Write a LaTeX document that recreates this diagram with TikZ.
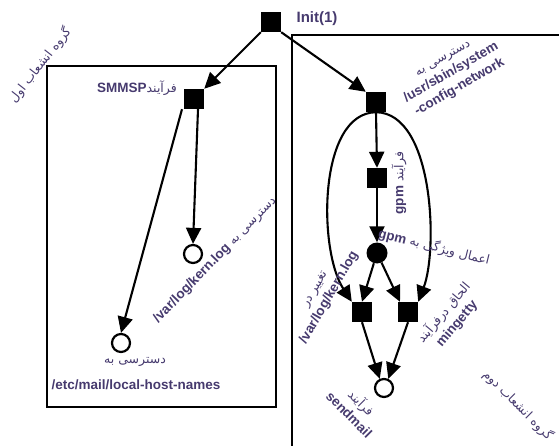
\documentclass[tikz,border=0pt]{standalone}
\usepackage{fontspec}
\setmainfont{Liberation Sans}
\newfontfamily\fa[Script=Arabic]{DejaVu Sans}
\TeXXeTstate=1
\usetikzlibrary{arrows.meta}
\definecolor{lab}{HTML}{463A6E}
\newcommand{\latn}[1]{\beginL{\rmfamily\bfseries\fontsize{13.5}{17}\selectfont #1}\endL}
\newcommand{\rtl}[1]{{\fa\fontsize{12.5}{17}\selectfont\beginR #1\endR}}
\tikzset{
  sq/.style={fill=black, minimum size=20pt, inner sep=0pt},
  wc/.style={circle, draw, line width=2.2pt, minimum size=18pt, inner sep=0pt, fill=white},
  bc/.style={circle, fill=black, minimum size=21pt, inner sep=0pt},
  arr/.style={line width=2.1pt, -{Triangle[length=16pt,width=15pt]}},
  lbl/.style={text=lab, inner sep=0pt, align=center, font=\fontsize{13}{17}\selectfont},
  frame/.style={line width=1.8pt},
}
\begin{document}
\begin{tikzpicture}[x=1pt,y=-1pt]
\useasboundingbox (0,0) rectangle (559,446);
% frames
\draw[frame] (47,66) rectangle (276,407);
\draw[frame] (292,447) -- (292,35) -- (560,35);
% nodes
\node[sq] (init) at (271,22) {};
\node[sq] (smmsp) at (194,99) {};
\node[wc] (kern) at (193,254) {};
\node[wc] (local) at (121,343) {};
\node[sq] (cfg) at (376,102) {};
\node[sq] (gpm) at (377,178) {};
\node[bc] (attr) at (377,253) {};
\node[sq] (sqL) at (362,312) {};
\node[sq] (sqR) at (408,312) {};
\node[wc] (send) at (384,388) {};
% connectors
\draw[arr] (init.south west) -- (smmsp.north east);
\draw[arr] (init.south east) -- (cfg.north west);
\draw[arr] ([xshift=-12pt]smmsp.south) -- (local.north);
\draw[arr] ([xshift=4pt]smmsp.south) -- (kern.north);
\draw[arr] (cfg.south) -- (gpm.north);
\draw[arr] (gpm.south) -- (attr.north);
\draw[arr] (cfg.south) .. controls (318,113) and (318,250) .. (sqL.north west);
\draw[arr] (cfg.south) .. controls (434,113) and (438,250) .. (sqR.north east);
\draw[arr] (attr) -- (sqL.north);
\draw[arr] (attr) -- ([xshift=-8pt]sqR.north);
\draw[arr] (sqL.south) -- (send.115);
\draw[arr] (sqR.south) -- (send.65);
% labels
\node[lbl, font=\bfseries\fontsize{15}{18}\selectfont] (tinit) at (317,19) {Init(1)};
\node[lbl] (tsmmsp) at (137,88) {\rtl{فرآیند\latn{SMMSP}}};
\node[lbl] (tlocal1) at (135,362) {\rtl{دسترسی به}};
\node[lbl] (tlocal2) at (136,385) {\latn{/etc/mail/local-host-names}};
\node[lbl, rotate=46] (tkern) at (215,260) {\rtl{دسترسی به \latn{/var/log/kern.log}}};
\node[lbl, rotate=52] (tgrp1) at (40,65) {\rtl{گروه انشعاب اول}};
\node[lbl, rotate=-45] (tgrp2) at (518,405) {\rtl{گروه انشعاب دوم}};
\node[lbl, rotate=30] (tcfg) at (452,74) {\rtl{دسترسی به}\\\latn{/usr/sbin/system}\\\latn{-config-network}};
\node[lbl, rotate=90] (tgpm) at (399,183) {\rtl{فرآیند \latn{gpm}}};
\node[lbl, rotate=-14] (tattr) at (434,247) {\rtl{اعمال ویژگی به \latn{gpm}}};
\node[lbl, rotate=60] (tchg) at (323,294) {\rtl{تغییر در}\\\latn{/var/log/kern.log}};
\node[lbl, rotate=50] (tming) at (450,318) {\rtl{الحاق درفرآیند}\\\latn{mingetty}};
\node[lbl, rotate=-45] (tsend) at (356,408) {\rtl{فرآیند}\\\latn{sendmail}};
\end{tikzpicture}
\end{document}
